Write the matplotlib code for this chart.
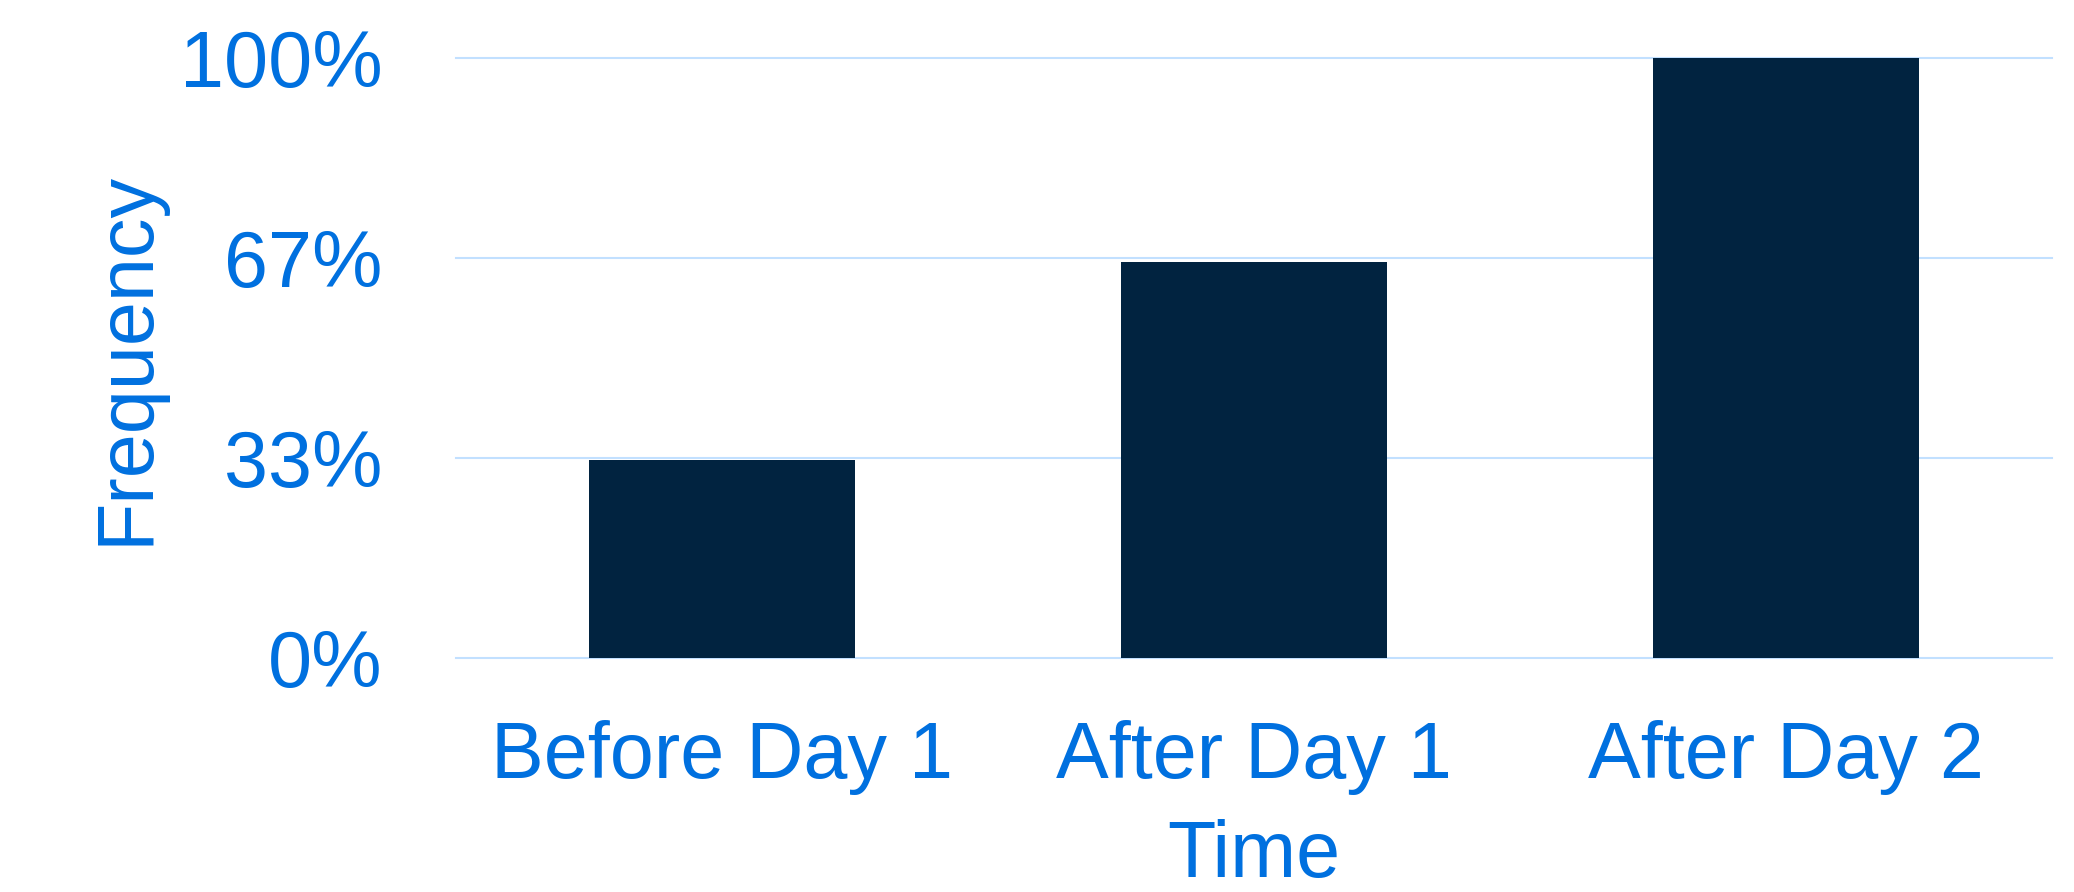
import matplotlib
matplotlib.use("Agg")
from matplotlib import pyplot as plt

categories = ["Before Day 1", "After Day 1", "After Day 2"]
values = [0.33, 0.66, 1.0]
tick_values = [0, 1 / 3, 2 / 3, 1]
tick_labels = ["0%", "33%", "67%", "100%"]

text_color = "#0070DF"
bar_color = "#012340"
grid_color = "#C2E0FF"

plt.rcParams["font.family"] = ["Liberation Sans", "DejaVu Sans"]

fig = plt.figure(figsize=(20.74, 8.92), dpi=100)
ax = fig.add_axes([456 / 2074, 1 - 657.5 / 892, (2052 - 456) / 2074, 600 / 892])

x = list(range(len(categories)))
ax.bar(x, values, width=0.5, color=bar_color, zorder=3)

ax.set_xlim(-0.5, 2.5)
ax.set_ylim(0, 1)
ax.set_yticks(tick_values)
ax.set_yticklabels(tick_labels)
ax.set_xticks(x)
ax.set_xticklabels(categories)

for t in tick_values:
    ax.axhline(t, color=grid_color, linewidth=1.5, zorder=1, clip_on=False)

for s in ax.spines.values():
    s.set_visible(False)

ax.tick_params(axis="x", length=0, pad=45, labelsize=57, labelcolor=text_color)
ax.tick_params(axis="y", length=0, pad=53, labelsize=57, labelcolor=text_color)

ax.set_xlabel("Time", fontsize=57, color=text_color, labelpad=17)
ax.set_ylabel("Frequency", fontsize=57, color=text_color, labelpad=11)

fig.savefig("out.png", dpi=100, facecolor="white")
